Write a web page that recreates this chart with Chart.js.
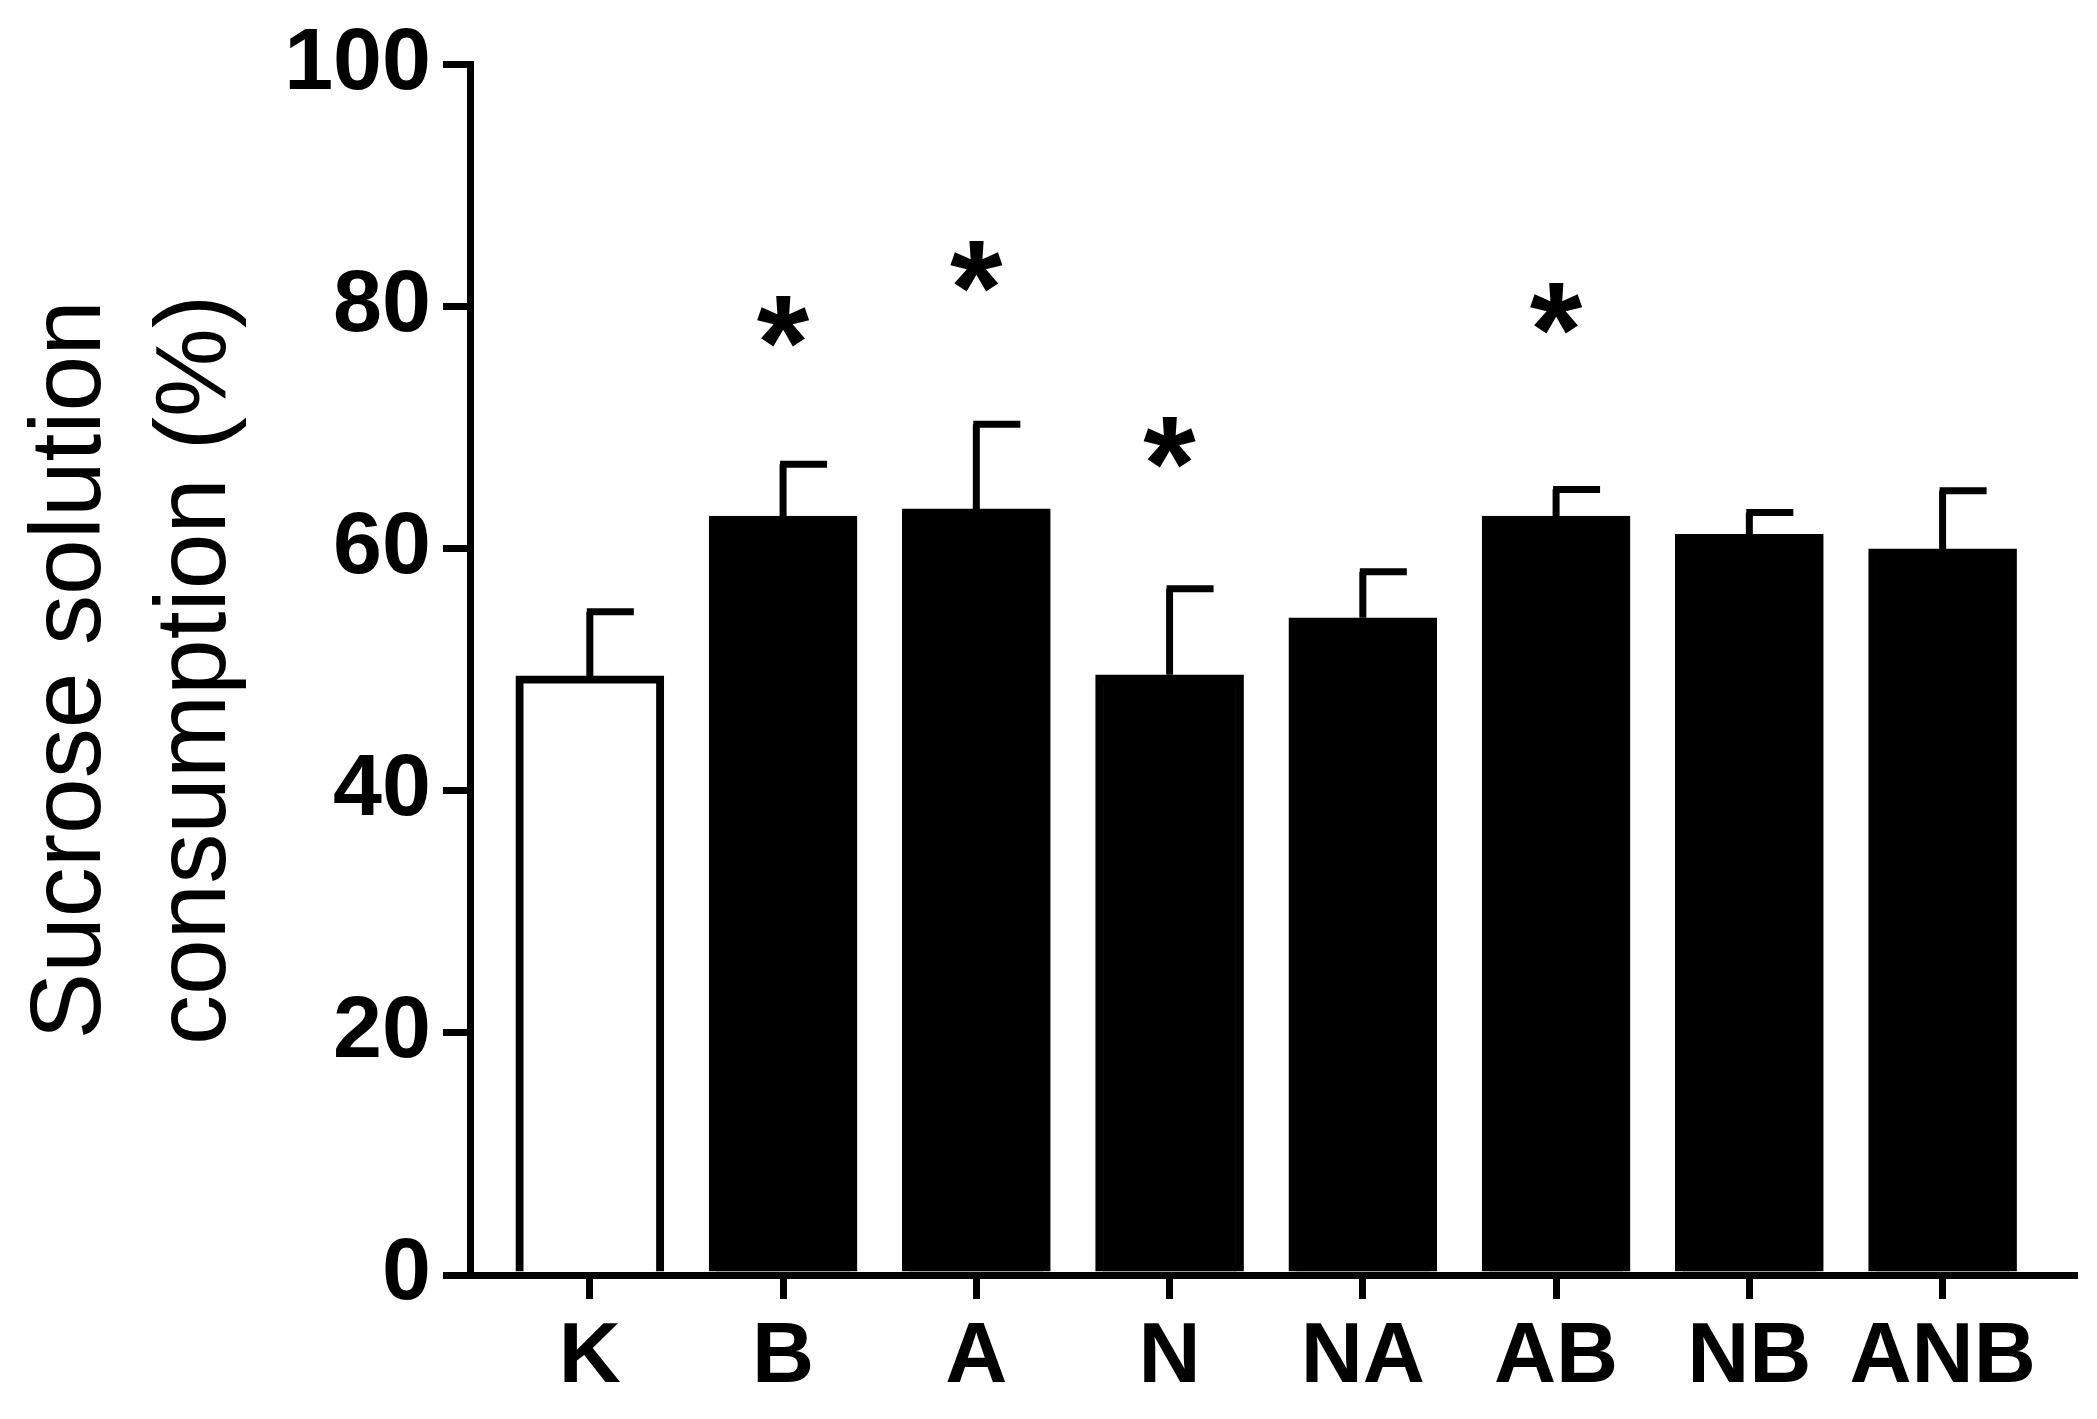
<!DOCTYPE html>
<html>
<head>
<meta charset="utf-8">
<script src="https://cdn.jsdelivr.net/npm/chart.js@4"></script>
<style>
  html, body { margin: 0; padding: 0; background: #fff; }
  #wrap { width: 2097px; height: 1419px; }
</style>
</head>
<body>
<div id="wrap"><canvas id="chart"></canvas></div>
<script>
// Data
const groups = ['K', 'B', 'A', 'N', 'NA', 'AB', 'NB', 'ANB'];
const means = [49.5, 62.7, 63.3, 49.6, 54.3, 62.7, 61.2, 60.0];
const errTops = [54.8, 67.0, 70.3, 56.7, 58.1, 64.9, 63.0, 64.8];
const starHeights = [null, 78.8, 83.3, 68.8, null, 79.8, null, null];
const yTicks = [0, 20, 40, 60, 80, 100];

const FONT = 'Arial, "Liberation Sans", sans-serif';

// upper error bars and significance stars
const extrasPlugin = {
    id: 'extras',
    afterDatasetsDraw(chart) {
        const ctx = chart.ctx;
        const xs = chart.scales.x, ys = chart.scales.y;
        ctx.save();
        ctx.strokeStyle = '#000';
        ctx.lineWidth = 7;
        groups.forEach((g, i) => {
            const x = xs.getPixelForValue(i);
            const y0 = ys.getPixelForValue(means[i]);
            const y1 = ys.getPixelForValue(errTops[i]);
            ctx.beginPath();
            ctx.moveTo(x, y0);
            ctx.lineTo(x, y1);
            ctx.moveTo(x - 3, y1);
            ctx.lineTo(x + 44, y1);
            ctx.stroke();
            if (starHeights[i] !== null) {
                ctx.fillStyle = '#000';
                ctx.font = 'bold 135px ' + FONT;
                ctx.textAlign = 'center';
                ctx.textBaseline = 'middle';
                ctx.fillText('*', x, ys.getPixelForValue(starHeights[i]) + 30);
            }
        });
        ctx.restore();
    }
};

new Chart(document.getElementById('chart'), {
    type: 'bar',
    data: {
        datasets: [{
            data: means.map((v, i) => ({ x: i, y: v })),
            backgroundColor: means.map((v, i) => i === 0 ? '#fff' : '#000'),
            borderColor: '#000',
            borderWidth: 8,
            borderSkipped: 'bottom',
            barThickness: 148
        }]
    },
    options: {
        responsive: true,
        maintainAspectRatio: false,
        animation: false,
        layout: { padding: { top: 30, right: 23, left: 10 } },
        plugins: { legend: { display: false }, tooltip: { enabled: false } },
        scales: {
            x: {
                type: 'linear',
                offset: false,
                min: -0.62,
                max: 7.68,
                afterBuildTicks(scale) {
                    scale.ticks = groups.map((g, i) => ({ value: i }));
                },
                afterFit(scale) { scale.height = 144; },
                grid: { offset: false, drawOnChartArea: false, drawTicks: true, tickLength: 24, lineWidth: 7, color: '#000' },
                border: { color: '#000', width: 7 },
                ticks: {
                    color: '#000',
                    padding: 8,
                    font: { family: FONT, size: 86, weight: 'bold' },
                    callback: (v) => groups[v]
                }
            },
            y: {
                min: 0,
                max: 100,
                afterBuildTicks(scale) {
                    scale.ticks = yTicks.map(v => ({ value: v }));
                },
                afterFit(scale) { scale.width = 460; },
                grid: { drawOnChartArea: false, drawTicks: true, tickLength: 27, lineWidth: 7, color: '#000' },
                border: { color: '#000', width: 7 },
                ticks: {
                    color: '#000',
                    padding: 12,
                    font: { family: FONT, size: 88, weight: 'bold' }
                },
                title: {
                    display: true,
                    text: ['Sucrose solution', 'consumption (%)'],
                    color: '#000',
                    font: { family: FONT, size: 100, lineHeight: 1.25 },
                    padding: { top: 0, bottom: 0 }
                }
            }
        }
    },
    plugins: [extrasPlugin]
});
</script>
</body>
</html>
